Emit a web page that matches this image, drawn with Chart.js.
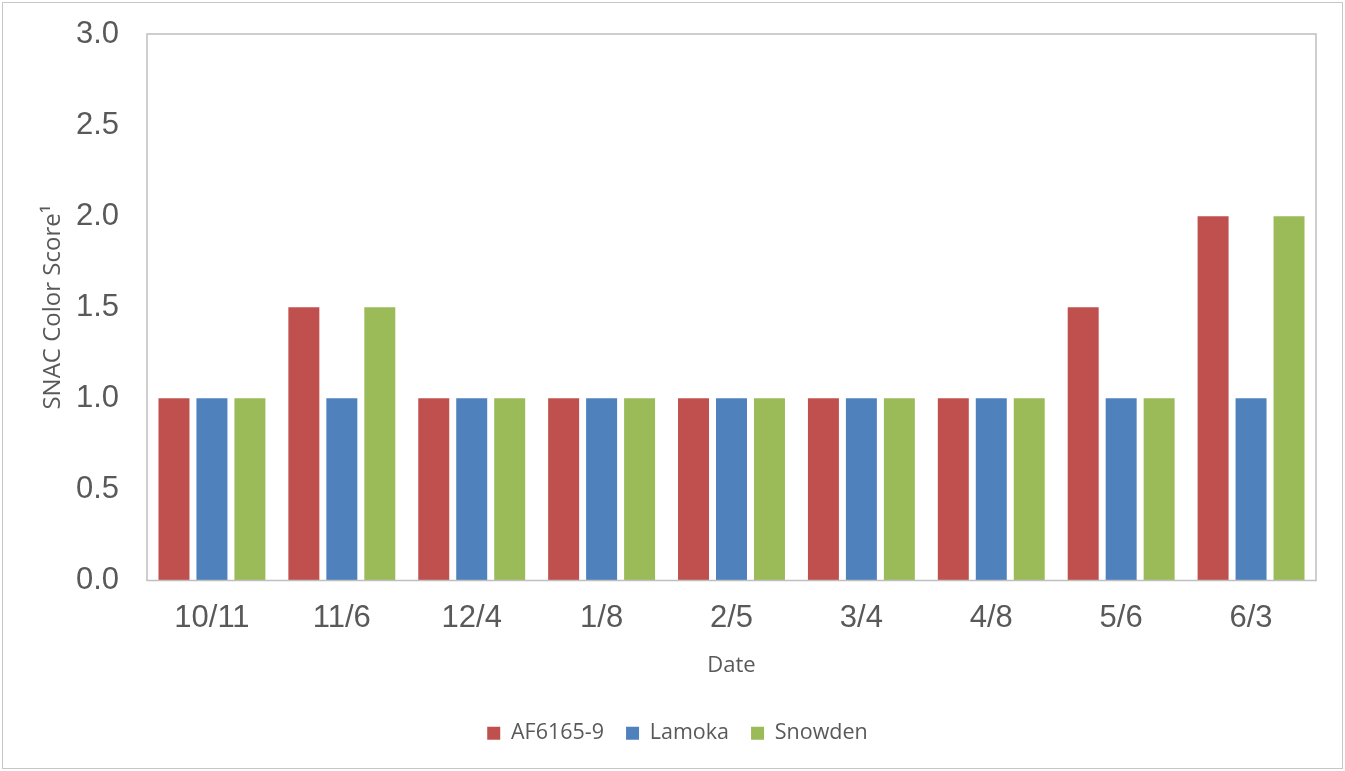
<!DOCTYPE html>
<html>
<head>
<meta charset="utf-8">
<script src="https://cdn.jsdelivr.net/npm/chart.js@4.4.1/dist/chart.umd.min.js"></script>
<style>
  html, body { margin: 0; padding: 0; background: #ffffff; }
  #wrap { position: relative; width: 1345px; height: 771px; }
</style>
</head>
<body>
<div id="wrap"><canvas id="chart" width="1345" height="771"></canvas></div>
<script>
// Sampling dates (x axis)
const dates = ['10/11', '11/6', '12/4', '1/8', '2/5', '3/4', '4/8', '5/6', '6/3'];

// SNAC color scores per variety
const af6165 = [1.0, 1.5, 1.0, 1.0, 1.0, 1.0, 1.0, 1.5, 2.0];
const lamoka = [1.0, 1.0, 1.0, 1.0, 1.0, 1.0, 1.0, 1.0, 1.0];
const snowden = [1.0, 1.5, 1.0, 1.0, 1.0, 1.0, 1.0, 1.0, 2.0];

const seriesNames = ['AF6165-9', 'Lamoka', 'Snowden'];
const seriesColors = ['#C0504D', '#4F81BD', '#9BBB59'];

const textGray = '#595959';
const frameGray = '#BFBFBF';

// Outer frame plus a box around the plotting area
const framePlugin = {
  id: 'frames',
  beforeDraw(chart) {
    const ctx = chart.ctx;
    ctx.save();
    ctx.fillStyle = '#ffffff';
    ctx.fillRect(0, 0, chart.width, chart.height);
    ctx.strokeStyle = '#C6C6C6';
    ctx.lineWidth = 1;
    ctx.strokeRect(2.5, 2.5, 1340, 766);
    ctx.restore();
  },
  afterDatasetsDraw(chart) {
    const { ctx, chartArea: a } = chart;
    ctx.save();
    ctx.strokeStyle = frameGray;
    ctx.lineWidth = 1.5;
    ctx.strokeRect(a.left, a.top, a.right - a.left, a.bottom - a.top);
    ctx.restore();
  }
};

const makeSet = (label, data, color) => ({
  label,
  data,
  backgroundColor: color,
  borderWidth: 0,
  categoryPercentage: 0.877,
  barPercentage: 0.816
});

new Chart(document.getElementById('chart'), {
  type: 'bar',
  data: {
    labels: dates,
    datasets: [
      makeSet(seriesNames[0], af6165, seriesColors[0]),
      makeSet(seriesNames[1], lamoka, seriesColors[1]),
      makeSet(seriesNames[2], snowden, seriesColors[2])
    ]
  },
  options: {
    responsive: false,
    animation: false,
    layout: { padding: { top: 34, right: 29, left: 39, bottom: 17 } },
    plugins: {
      tooltip: { enabled: false },
      legend: {
        position: 'bottom',
        labels: {
          boxWidth: 13,
          boxHeight: 13,
          padding: 22,
          color: textGray,
          font: { family: '"Open Sans", sans-serif', size: 21.5 }
        }
      }
    },
    scales: {
      x: {
        grid: { display: false, drawTicks: false },
        border: { display: false },
        ticks: {
          color: textGray,
          padding: 19,
          font: { family: '"Liberation Sans", Arial, sans-serif', size: 31 }
        },
        title: {
          display: true,
          text: 'Date',
          color: textGray,
          padding: { top: 4, bottom: 22 },
          font: { family: '"Open Sans", sans-serif', size: 22 }
        },
        afterFit(scale) { scale.height = 120; }
      },
      y: {
        min: 0,
        max: 3,
        grid: { display: false, drawTicks: false },
        border: { display: false },
        ticks: {
          stepSize: 0.5,
          color: textGray,
          padding: 28,
          font: { family: '"Liberation Sans", Arial, sans-serif', size: 31 },
          callback: (v) => Number(v).toFixed(1)
        },
        title: {
          display: true,
          text: 'SNAC Color Score\u00B9',
          color: textGray,
          padding: { top: 0, bottom: 0 },
          font: { family: '"Open Sans", sans-serif', size: 24 }
        },
        afterFit(scale) {
          scale.width = 108;
          // the top label may sit over the outer margin
          scale.paddingTop = 0;
          scale.paddingBottom = 0;
        }
      }
    }
  },
  plugins: [framePlugin]
});
</script>
</body>
</html>
